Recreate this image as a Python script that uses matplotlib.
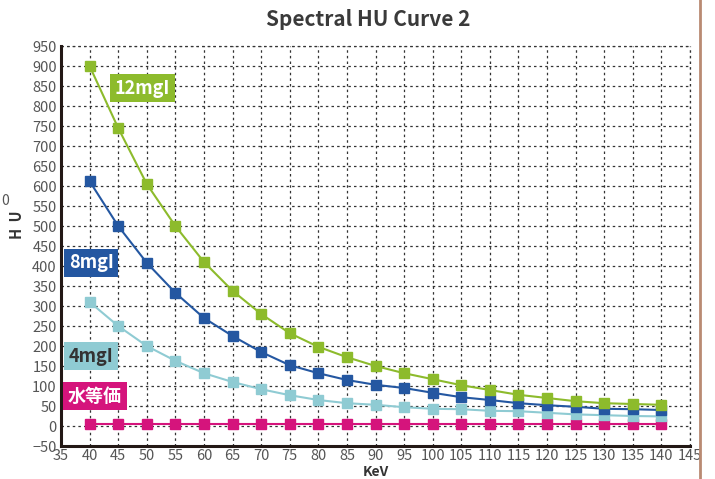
import matplotlib
matplotlib.use("Agg")
import matplotlib.pyplot as plt

# keV values and HU readings per iodine concentration
kev = [40, 45, 50, 55, 60, 65, 70, 75, 80, 85, 90, 95, 100, 105, 110, 115, 120, 125, 130, 135, 140]
hu_12 = [900, 745, 605, 500, 410, 338, 280, 232, 198, 172, 150, 132, 117, 102, 90, 78, 70, 62, 57, 55, 53]
hu_8 = [612, 500, 408, 333, 270, 225, 185, 152, 132, 115, 103, 95, 83, 72, 65, 57, 52, 48, 43, 42, 40]
hu_4 = [310, 250, 200, 163, 132, 110, 92, 77, 65, 57, 53, 47, 43, 42, 38, 37, 33, 29, 27, 25, 24]
hu_water = [5, 5, 5, 5, 5, 5, 5, 5, 5, 5, 5, 5, 5, 5, 5, 5, 5, 5, 5, 5, 5]

xticks = list(range(35, 150, 5))
yticks = list(range(-50, 1000, 50))

plt.rcParams['font.family'] = ['Liberation Sans Narrow', 'Noto Sans CJK JP', 'DejaVu Sans']

fig = plt.figure(figsize=(7.15, 4.79), dpi=100)
ax = fig.add_axes([61/715, 1 - 446/479, (690 - 61)/715, 400/479])

green = '#8dbb2c'
blue = '#2457a1'
cyan = '#8fcbd3'
magenta = '#d5147c'

for ys, c in [(hu_water, magenta), (hu_4, cyan), (hu_8, blue), (hu_12, green)]:
    ax.plot(kev, ys, color=c, lw=1.5, marker='s', ms=6.5, mec=c, mfc=c, zorder=3)

ax.set_xlim(35, 145)
ax.set_ylim(-50, 950)
ax.set_xticks(xticks)
ax.set_yticks(yticks)
ax.grid(True, color='#333333', ls=(0, (2, 2.5)), lw=0.9)
ax.tick_params(length=0, labelsize=10.5, labelcolor='#555555')
ax.tick_params(axis='x', pad=2)
ax.tick_params(axis='y', pad=3)

for s in ['top', 'right']:
    ax.spines[s].set_visible(False)
ax.spines['left'].set_linewidth(2.2)
ax.spines['bottom'].set_linewidth(2.2)
ax.spines['left'].set_color('#231815')
ax.spines['bottom'].set_color('#231815')
ax.axhline(950, color='#333333', ls=(0, (2, 2.5)), lw=0.9, clip_on=False)
ax.axvline(145, color='#333333', ls=(0, (2, 2.5)), lw=0.9, clip_on=False)

# series labels
def tag(x, y, txt, bg, fg):
    fig.text(x/715, 1 - y/479, txt, color=fg, fontsize=13, fontweight='bold',
             ha='left', va='center',
             bbox=dict(boxstyle='square,pad=0.25', fc=bg, ec='none'))

tag(115, 88, '12mgI', green, 'white')
tag(69, 263, '8mgI', blue, 'white')
tag(69, 356, '4mgI', cyan, '#333333')
tag(68, 396, '水等価', magenta, 'white')

fig.text(368/715, 1 - 20/479, 'Spectral HU Curve 2', ha='center', va='center',
         fontsize=15, fontweight='bold', color='#3a3a3a')
fig.text(17/715, 1 - 225/479, 'H  U', rotation=90, ha='center', va='center',
         fontsize=10.5, fontweight='bold', color='#333333')
fig.text(5/715, 1 - 201/479, '0', ha='center', va='center', fontsize=10, color='#555555')
fig.text(376/715, 1 - 472/479, 'KeV', ha='center', va='center',
         fontsize=10, fontweight='bold', color='#333333')

fig.add_artist(plt.Line2D([700/715, 700/715], [0, 1], color='#b98a72', lw=2))

fig.savefig('out.png', dpi=100)
